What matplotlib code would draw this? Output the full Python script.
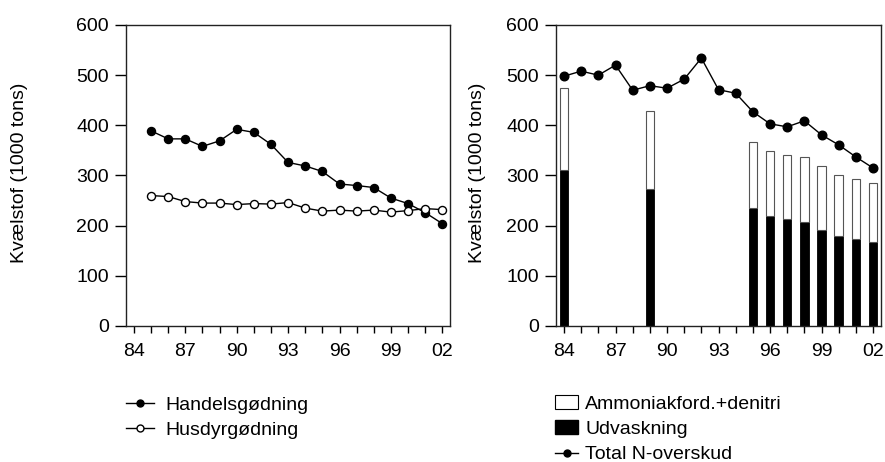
import matplotlib.pyplot as plt
from matplotlib.patches import Patch
from matplotlib.lines import Line2D

plt.rcParams['font.family'] = ['Liberation Sans', 'DejaVu Sans']

# left panel: 1985-2002
years_left = [1985, 1986, 1987, 1988, 1989, 1990, 1991, 1992, 1993,
              1994, 1995, 1996, 1997, 1998, 1999, 2000, 2001, 2002]
handel = [389, 373, 373, 358, 369, 392, 386, 362, 326,
          319, 308, 283, 280, 276, 255, 244, 226, 204]
husdyr = [260, 258, 248, 245, 245, 242, 244, 243, 246,
          235, 229, 231, 229, 231, 227, 230, 234, 232]

# right panel: total surplus 1984-2002
years_right = [1984, 1985, 1986, 1987, 1988, 1989, 1990, 1991, 1992, 1993,
               1994, 1995, 1996, 1997, 1998, 1999, 2000, 2001, 2002]
total_n = [498, 508, 500, 520, 470, 479, 474, 492, 534, 471,
           464, 427, 403, 397, 409, 381, 361, 337, 315]

# bars (only some years)
bar_years = [1984, 1989, 1995, 1996, 1997, 1998, 1999, 2000, 2001, 2002]
bar_total = [474, 428, 367, 348, 341, 337, 319, 301, 294, 286]
udvaskning = [310, 274, 235, 219, 213, 207, 191, 179, 173, 167]
ammoniak = [t - u for t, u in zip(bar_total, udvaskning)]

tick_years = [1984, 1987, 1990, 1993, 1996, 1999, 2002]
tick_labels = ['84', '87', '90', '93', '96', '99', '02']
yticks = [0, 100, 200, 300, 400, 500, 600]

fig = plt.figure(figsize=(8.85, 4.62), dpi=100)
ax1 = fig.add_axes([0.142, 0.2944, 0.3665, 0.6515])
ax2 = fig.add_axes([0.628, 0.2944, 0.3672, 0.6515])


def style(ax, label_x):
    ax.set_xlim(1983.52, 2002.45)
    ax.set_ylim(0, 600)
    ax.set_yticks(yticks)
    ax.set_xticks(tick_years)
    ax.set_xticklabels(tick_labels)
    ax.set_xticks(years_right, minor=True)
    ax.tick_params(axis='y', direction='out', length=8, width=1, labelsize=14, pad=4)
    ax.tick_params(axis='x', which='both', direction='out', length=5, width=1,
                   labelsize=14, pad=7)
    for s in ax.spines.values():
        s.set_linewidth(1)
        s.set_color('#222222')
    ax.set_ylabel('Kvælstof (1000 tons)', fontsize=14)
    ax.yaxis.set_label_coords(label_x, 0.51)


ax1.plot(years_left, handel, color='black', lw=1, marker='o', ms=5.8,
         mfc='black', mec='black', label='Handelsgødning')
ax1.plot(years_left, husdyr, color='black', lw=1, marker='o', ms=5.8,
         mfc='white', mec='black', mew=1, label='Husdyrgødning')
style(ax1, -0.30)

ax2.bar(bar_years, udvaskning, width=0.5, color='black', edgecolor='black', lw=0.6)
ax2.bar(bar_years, ammoniak, bottom=udvaskning, width=0.5, color='white',
        edgecolor='#555555', lw=0.8)
ax2.plot(years_right, total_n, color='black', lw=1, marker='o', ms=6.2,
         mfc='black', mec='black')
style(ax2, -0.215)

h1 = [Line2D([], [], color='black', lw=1, marker='o', ms=5, mfc='black', mec='black'),
      Line2D([], [], color='black', lw=1, marker='o', ms=5, mfc='white', mec='black')]
fig.legend(h1, ['Handelsgødning', 'Husdyrgødning'], loc='upper left',
           bbox_to_anchor=(0.1424, 0.143), frameon=False, fontsize=14,
           handlelength=1.45, handletextpad=0.55, labelspacing=0.4,
           borderaxespad=0, borderpad=0)

h2 = [Patch(facecolor='white', edgecolor='black', lw=0.8),
      Patch(facecolor='black', edgecolor='black'),
      Line2D([], [], color='black', lw=1, marker='o', ms=5, mfc='black', mec='black')]
fig.legend(h2, ['Ammoniakford.+denitri', 'Udvaskning', 'Total N-overskud'],
           loc='upper left', bbox_to_anchor=(0.627, 0.145), frameon=False,
           fontsize=14, handlelength=1.2, handleheight=0.7, handletextpad=0.35,
           labelspacing=0.4, borderaxespad=0, borderpad=0)

fig.savefig('out.png', dpi=100)
